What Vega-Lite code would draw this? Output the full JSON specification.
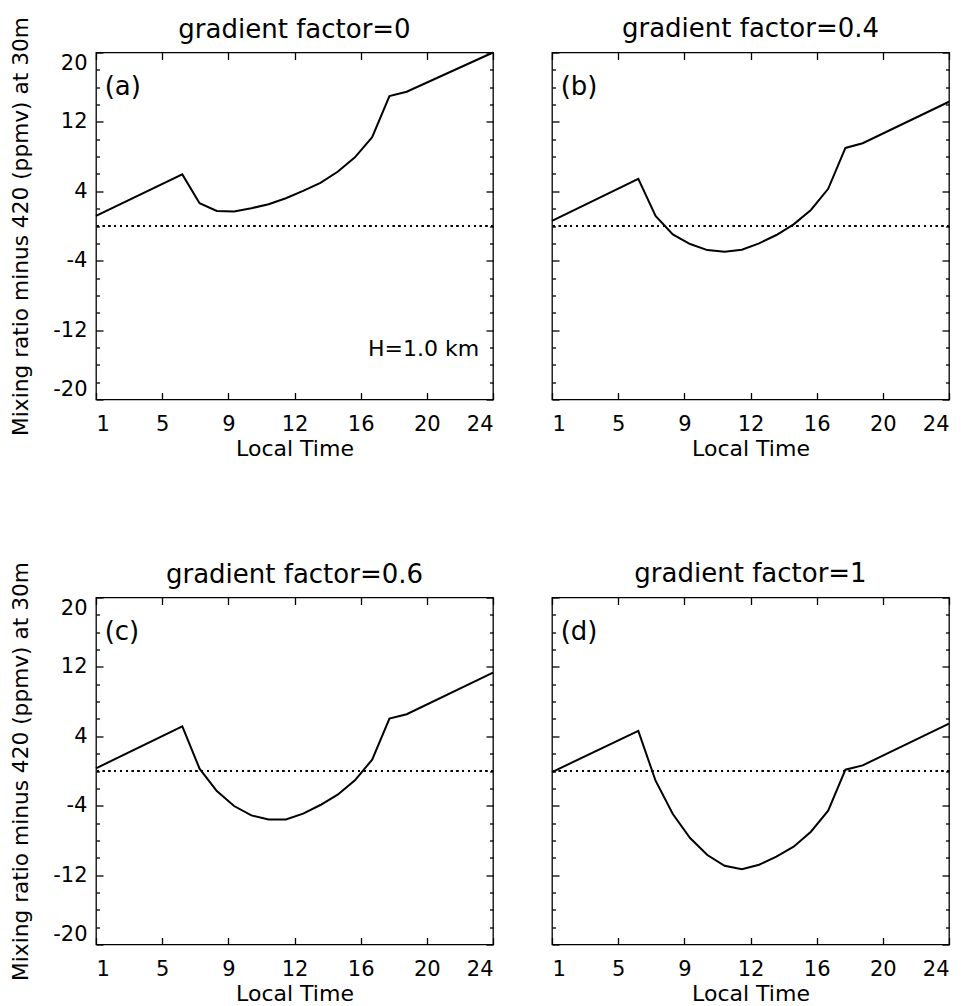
{
  "$schema": "https://vega.github.io/schema/vega-lite/v6.json",
  "padding": {"left": 10, "top": 15.5, "right": 0, "bottom": 0},
  "background": "white",
  "data": {"values": [
    {"panel": "a", "t": 1, "v": 1.16}, {"panel": "a", "t": 6, "v": 5.95}, {"panel": "a", "t": 7, "v": 2.63}, {"panel": "a", "t": 8, "v": 1.74}, {"panel": "a", "t": 9, "v": 1.66}, {"panel": "a", "t": 10, "v": 2.05}, {"panel": "a", "t": 11, "v": 2.51}, {"panel": "a", "t": 12, "v": 3.2}, {"panel": "a", "t": 13, "v": 4.05}, {"panel": "a", "t": 14, "v": 4.98}, {"panel": "a", "t": 15, "v": 6.25}, {"panel": "a", "t": 16, "v": 7.92}, {"panel": "a", "t": 17, "v": 10.23}, {"panel": "a", "t": 18, "v": 14.98}, {"panel": "a", "t": 19, "v": 15.48}, {"panel": "a", "t": 24, "v": 20.0},
    {"panel": "b", "t": 1, "v": 0.58}, {"panel": "b", "t": 6, "v": 5.44}, {"panel": "b", "t": 7, "v": 1.16}, {"panel": "b", "t": 8, "v": -0.97}, {"panel": "b", "t": 9, "v": -2.08}, {"panel": "b", "t": 10, "v": -2.78}, {"panel": "b", "t": 11, "v": -2.97}, {"panel": "b", "t": 12, "v": -2.74}, {"panel": "b", "t": 13, "v": -2.0}, {"panel": "b", "t": 14, "v": -1.04}, {"panel": "b", "t": 15, "v": 0.19}, {"panel": "b", "t": 16, "v": 1.85}, {"panel": "b", "t": 17, "v": 4.29}, {"panel": "b", "t": 18, "v": 9.0}, {"panel": "b", "t": 19, "v": 9.54}, {"panel": "b", "t": 24, "v": 14.32},
    {"panel": "c", "t": 1, "v": 0.31}, {"panel": "c", "t": 6, "v": 5.15}, {"panel": "c", "t": 7, "v": 0.27}, {"panel": "c", "t": 8, "v": -2.31}, {"panel": "c", "t": 9, "v": -4.04}, {"panel": "c", "t": 10, "v": -5.12}, {"panel": "c", "t": 11, "v": -5.58}, {"panel": "c", "t": 12, "v": -5.58}, {"panel": "c", "t": 13, "v": -4.92}, {"panel": "c", "t": 14, "v": -3.92}, {"panel": "c", "t": 15, "v": -2.73}, {"panel": "c", "t": 16, "v": -1.08}, {"panel": "c", "t": 17, "v": 1.31}, {"panel": "c", "t": 18, "v": 6.04}, {"panel": "c", "t": 19, "v": 6.54}, {"panel": "c", "t": 24, "v": 11.35},
    {"panel": "d", "t": 1, "v": -0.12}, {"panel": "d", "t": 6, "v": 4.62}, {"panel": "d", "t": 7, "v": -1.12}, {"panel": "d", "t": 8, "v": -4.96}, {"panel": "d", "t": 9, "v": -7.73}, {"panel": "d", "t": 10, "v": -9.69}, {"panel": "d", "t": 11, "v": -10.92}, {"panel": "d", "t": 12, "v": -11.31}, {"panel": "d", "t": 13, "v": -10.81}, {"panel": "d", "t": 14, "v": -9.88}, {"panel": "d", "t": 15, "v": -8.73}, {"panel": "d", "t": 16, "v": -7.0}, {"panel": "d", "t": 17, "v": -4.58}, {"panel": "d", "t": 18, "v": 0.15}, {"panel": "d", "t": 19, "v": 0.65}, {"panel": "d", "t": 24, "v": 5.46}
  ]},
  "columns": 2,
  "spacing": {"row": 198, "column": 59},
  "bounds": "flush",
  "concat": [
    {
      "title": {"text": "gradient factor=0", "frame": "group", "baseline": "alphabetic", "offset": -47.5, "anchor": "middle"},
      "width": 397, "height": 347,
      "transform": [{"filter": "datum.panel == 'a'"}],
      "layer": [
        {"mark": {"type": "line", "color": "black", "strokeWidth": 2},
         "encoding": {
           "x": {"field": "t", "type": "quantitative", "scale": {"domain": [1, 24], "nice": false, "zero": false},
                 "axis": {"values": [1, 4.833333, 8.666667, 12.5, 16.333333, 20.166667, 24], "labelExpr": "'' + floor(datum.value + 0.4)", "ticks": false, "labelPadding": 14, "title": "Local Time", "titlePadding": 4}},
           "y": {"field": "v", "type": "quantitative", "scale": {"domain": [-20, 20], "nice": false, "zero": false},
                 "axis": {"values": [-20, -12, -4, 4, 12, 20], "labelExpr": "'' + datum.value", "ticks": false, "labelFlush": true, "labelPadding": 9, "title": "Mixing ratio minus 420 (ppmv) at 30m", "titleFontSize": 21.7, "titlePadding": 20}}
         }},
        {"mark": {"type": "rule", "color": "black", "strokeWidth": 1.2, "strokeDash": [1.5, 4.3]},
         "encoding": {"y": {"datum": 0, "type": "quantitative", "axis": null}}},
        {"mark": {"type": "point", "opacity": 0},
         "encoding": {
           "x": {"field": "t", "type": "quantitative", "axis": {"orient": "bottom", "values": [1, 4.833333, 8.666667, 12.5, 16.333333, 20.166667, 24], "labels": false, "tickSize": -7, "title": null}},
           "y": {"field": "v", "type": "quantitative", "axis": {"orient": "left", "values": [-20, -12, -4, 4, 12, 20], "labels": false, "tickSize": -7, "title": null}}
         }},
        {"mark": {"type": "point", "opacity": 0},
         "encoding": {
           "x": {"field": "t", "type": "quantitative", "axis": {"orient": "top", "values": [1, 4.833333, 8.666667, 12.5, 16.333333, 20.166667, 24], "labels": false, "tickSize": -7, "title": null}},
           "y": {"field": "v", "type": "quantitative", "axis": {"orient": "left", "values": [-18, -16, -14, -10, -8, -6, -2, 0, 2, 6, 8, 10, 14, 16, 18], "labels": false, "tickSize": -3.5, "title": null}}
         }},
        {"mark": {"type": "point", "opacity": 0},
         "encoding": {
           "x": {"field": "t", "type": "quantitative", "axis": null},
           "y": {"field": "v", "type": "quantitative", "axis": {"orient": "right", "values": [-20, -12, -4, 4, 12, 20], "labels": false, "tickSize": -7, "title": null}}
         }},
        {"mark": {"type": "point", "opacity": 0},
         "encoding": {
           "x": {"field": "t", "type": "quantitative", "axis": null},
           "y": {"field": "v", "type": "quantitative", "axis": {"orient": "right", "values": [-18, -16, -14, -10, -8, -6, -2, 0, 2, 6, 8, 10, 14, 16, 18], "labels": false, "tickSize": -3.5, "title": null}}
         }},
        {"data": {"values": [{"panel": "a", "label": "(a)"}]},
         "mark": {"type": "text", "align": "left", "baseline": "alphabetic", "fontSize": 26, "color": "black"},
         "encoding": {"text": {"field": "label"}, "x": {"datum": 1.5, "type": "quantitative", "axis": null}, "y": {"datum": 15.1, "type": "quantitative", "axis": null}}},
        {"data": {"values": [{"panel": "a", "label": "H=1.0 km"}]},
         "mark": {"type": "text", "align": "right", "baseline": "alphabetic", "fontSize": 22, "color": "black"},
         "encoding": {"text": {"field": "label"}, "x": {"datum": 23.2, "type": "quantitative", "axis": null}, "y": {"datum": -15, "type": "quantitative", "axis": null}}}
      ],
      "resolve": {"axis": {"x": "independent", "y": "independent"}}
    },
    {
      "title": {"text": "gradient factor=0.4", "frame": "group", "baseline": "alphabetic", "offset": -11.6, "anchor": "middle"},
      "width": 397, "height": 347,
      "transform": [{"filter": "datum.panel == 'b'"}],
      "layer": [
        {"mark": {"type": "line", "color": "black", "strokeWidth": 2},
         "encoding": {
           "x": {"field": "t", "type": "quantitative", "scale": {"domain": [1, 24], "nice": false, "zero": false},
                 "axis": {"values": [1, 4.833333, 8.666667, 12.5, 16.333333, 20.166667, 24], "labelExpr": "'' + floor(datum.value + 0.4)", "ticks": false, "labelPadding": 14, "title": "Local Time", "titlePadding": 4}},
           "y": {"field": "v", "type": "quantitative", "scale": {"domain": [-20, 20], "nice": false, "zero": false}, "axis": null}
         }},
        {"mark": {"type": "rule", "color": "black", "strokeWidth": 1.2, "strokeDash": [1.5, 4.3]},
         "encoding": {"y": {"datum": 0, "type": "quantitative", "axis": null}}},
        {"mark": {"type": "point", "opacity": 0},
         "encoding": {
           "x": {"field": "t", "type": "quantitative", "axis": {"orient": "bottom", "values": [1, 4.833333, 8.666667, 12.5, 16.333333, 20.166667, 24], "labels": false, "tickSize": -7, "title": null}},
           "y": {"field": "v", "type": "quantitative", "axis": {"orient": "left", "values": [-20, -12, -4, 4, 12, 20], "labels": false, "tickSize": -7, "title": null}}
         }},
        {"mark": {"type": "point", "opacity": 0},
         "encoding": {
           "x": {"field": "t", "type": "quantitative", "axis": {"orient": "top", "values": [1, 4.833333, 8.666667, 12.5, 16.333333, 20.166667, 24], "labels": false, "tickSize": -7, "title": null}},
           "y": {"field": "v", "type": "quantitative", "axis": {"orient": "left", "values": [-18, -16, -14, -10, -8, -6, -2, 0, 2, 6, 8, 10, 14, 16, 18], "labels": false, "tickSize": -3.5, "title": null}}
         }},
        {"mark": {"type": "point", "opacity": 0},
         "encoding": {
           "x": {"field": "t", "type": "quantitative", "axis": null},
           "y": {"field": "v", "type": "quantitative", "axis": {"orient": "right", "values": [-20, -12, -4, 4, 12, 20], "labels": false, "tickSize": -7, "title": null}}
         }},
        {"mark": {"type": "point", "opacity": 0},
         "encoding": {
           "x": {"field": "t", "type": "quantitative", "axis": null},
           "y": {"field": "v", "type": "quantitative", "axis": {"orient": "right", "values": [-18, -16, -14, -10, -8, -6, -2, 0, 2, 6, 8, 10, 14, 16, 18], "labels": false, "tickSize": -3.5, "title": null}}
         }},
        {"data": {"values": [{"panel": "b", "label": "(b)"}]},
         "mark": {"type": "text", "align": "left", "baseline": "alphabetic", "fontSize": 26, "color": "black"},
         "encoding": {"text": {"field": "label"}, "x": {"datum": 1.5, "type": "quantitative", "axis": null}, "y": {"datum": 15.1, "type": "quantitative", "axis": null}}}
      ],
      "resolve": {"axis": {"x": "independent", "y": "independent"}}
    },
    {
      "title": {"text": "gradient factor=0.6", "frame": "group", "baseline": "alphabetic", "offset": -47.5, "anchor": "middle"},
      "width": 397, "height": 347,
      "transform": [{"filter": "datum.panel == 'c'"}],
      "layer": [
        {"mark": {"type": "line", "color": "black", "strokeWidth": 2},
         "encoding": {
           "x": {"field": "t", "type": "quantitative", "scale": {"domain": [1, 24], "nice": false, "zero": false},
                 "axis": {"values": [1, 4.833333, 8.666667, 12.5, 16.333333, 20.166667, 24], "labelExpr": "'' + floor(datum.value + 0.4)", "ticks": false, "labelPadding": 14, "title": "Local Time", "titlePadding": 4}},
           "y": {"field": "v", "type": "quantitative", "scale": {"domain": [-20, 20], "nice": false, "zero": false},
                 "axis": {"values": [-20, -12, -4, 4, 12, 20], "labelExpr": "'' + datum.value", "ticks": false, "labelFlush": true, "labelPadding": 9, "title": "Mixing ratio minus 420 (ppmv) at 30m", "titleFontSize": 21.7, "titlePadding": 20}}
         }},
        {"mark": {"type": "rule", "color": "black", "strokeWidth": 1.2, "strokeDash": [1.5, 4.3]},
         "encoding": {"y": {"datum": 0, "type": "quantitative", "axis": null}}},
        {"mark": {"type": "point", "opacity": 0},
         "encoding": {
           "x": {"field": "t", "type": "quantitative", "axis": {"orient": "bottom", "values": [1, 4.833333, 8.666667, 12.5, 16.333333, 20.166667, 24], "labels": false, "tickSize": -7, "title": null}},
           "y": {"field": "v", "type": "quantitative", "axis": {"orient": "left", "values": [-20, -12, -4, 4, 12, 20], "labels": false, "tickSize": -7, "title": null}}
         }},
        {"mark": {"type": "point", "opacity": 0},
         "encoding": {
           "x": {"field": "t", "type": "quantitative", "axis": {"orient": "top", "values": [1, 4.833333, 8.666667, 12.5, 16.333333, 20.166667, 24], "labels": false, "tickSize": -7, "title": null}},
           "y": {"field": "v", "type": "quantitative", "axis": {"orient": "left", "values": [-18, -16, -14, -10, -8, -6, -2, 0, 2, 6, 8, 10, 14, 16, 18], "labels": false, "tickSize": -3.5, "title": null}}
         }},
        {"mark": {"type": "point", "opacity": 0},
         "encoding": {
           "x": {"field": "t", "type": "quantitative", "axis": null},
           "y": {"field": "v", "type": "quantitative", "axis": {"orient": "right", "values": [-20, -12, -4, 4, 12, 20], "labels": false, "tickSize": -7, "title": null}}
         }},
        {"mark": {"type": "point", "opacity": 0},
         "encoding": {
           "x": {"field": "t", "type": "quantitative", "axis": null},
           "y": {"field": "v", "type": "quantitative", "axis": {"orient": "right", "values": [-18, -16, -14, -10, -8, -6, -2, 0, 2, 6, 8, 10, 14, 16, 18], "labels": false, "tickSize": -3.5, "title": null}}
         }},
        {"data": {"values": [{"panel": "c", "label": "(c)"}]},
         "mark": {"type": "text", "align": "left", "baseline": "alphabetic", "fontSize": 26, "color": "black"},
         "encoding": {"text": {"field": "label"}, "x": {"datum": 1.5, "type": "quantitative", "axis": null}, "y": {"datum": 15.1, "type": "quantitative", "axis": null}}}
      ],
      "resolve": {"axis": {"x": "independent", "y": "independent"}}
    },
    {
      "title": {"text": "gradient factor=1", "frame": "group", "baseline": "alphabetic", "offset": -11.6, "anchor": "middle"},
      "width": 397, "height": 347,
      "transform": [{"filter": "datum.panel == 'd'"}],
      "layer": [
        {"mark": {"type": "line", "color": "black", "strokeWidth": 2},
         "encoding": {
           "x": {"field": "t", "type": "quantitative", "scale": {"domain": [1, 24], "nice": false, "zero": false},
                 "axis": {"values": [1, 4.833333, 8.666667, 12.5, 16.333333, 20.166667, 24], "labelExpr": "'' + floor(datum.value + 0.4)", "ticks": false, "labelPadding": 14, "title": "Local Time", "titlePadding": 4}},
           "y": {"field": "v", "type": "quantitative", "scale": {"domain": [-20, 20], "nice": false, "zero": false}, "axis": null}
         }},
        {"mark": {"type": "rule", "color": "black", "strokeWidth": 1.2, "strokeDash": [1.5, 4.3]},
         "encoding": {"y": {"datum": 0, "type": "quantitative", "axis": null}}},
        {"mark": {"type": "point", "opacity": 0},
         "encoding": {
           "x": {"field": "t", "type": "quantitative", "axis": {"orient": "bottom", "values": [1, 4.833333, 8.666667, 12.5, 16.333333, 20.166667, 24], "labels": false, "tickSize": -7, "title": null}},
           "y": {"field": "v", "type": "quantitative", "axis": {"orient": "left", "values": [-20, -12, -4, 4, 12, 20], "labels": false, "tickSize": -7, "title": null}}
         }},
        {"mark": {"type": "point", "opacity": 0},
         "encoding": {
           "x": {"field": "t", "type": "quantitative", "axis": {"orient": "top", "values": [1, 4.833333, 8.666667, 12.5, 16.333333, 20.166667, 24], "labels": false, "tickSize": -7, "title": null}},
           "y": {"field": "v", "type": "quantitative", "axis": {"orient": "left", "values": [-18, -16, -14, -10, -8, -6, -2, 0, 2, 6, 8, 10, 14, 16, 18], "labels": false, "tickSize": -3.5, "title": null}}
         }},
        {"mark": {"type": "point", "opacity": 0},
         "encoding": {
           "x": {"field": "t", "type": "quantitative", "axis": null},
           "y": {"field": "v", "type": "quantitative", "axis": {"orient": "right", "values": [-20, -12, -4, 4, 12, 20], "labels": false, "tickSize": -7, "title": null}}
         }},
        {"mark": {"type": "point", "opacity": 0},
         "encoding": {
           "x": {"field": "t", "type": "quantitative", "axis": null},
           "y": {"field": "v", "type": "quantitative", "axis": {"orient": "right", "values": [-18, -16, -14, -10, -8, -6, -2, 0, 2, 6, 8, 10, 14, 16, 18], "labels": false, "tickSize": -3.5, "title": null}}
         }},
        {"data": {"values": [{"panel": "d", "label": "(d)"}]},
         "mark": {"type": "text", "align": "left", "baseline": "alphabetic", "fontSize": 26, "color": "black"},
         "encoding": {"text": {"field": "label"}, "x": {"datum": 1.5, "type": "quantitative", "axis": null}, "y": {"datum": 15.1, "type": "quantitative", "axis": null}}}
      ],
      "resolve": {"axis": {"x": "independent", "y": "independent"}}
    }
  ],
  "config": {
    "font": "DejaVu Sans",
    "view": {"stroke": "black", "strokeWidth": 1.3},
    "axis": {"domain": false, "grid": false, "tickColor": "black", "tickWidth": 1.3, "labelColor": "black", "labelFontSize": 21, "labelFont": "DejaVu Sans", "titleColor": "black", "titleFont": "DejaVu Sans", "titleFontSize": 22, "titleFontWeight": "normal"},
    "title": {"fontSize": 26, "fontWeight": "normal", "color": "black", "font": "DejaVu Sans"}
  }
}
